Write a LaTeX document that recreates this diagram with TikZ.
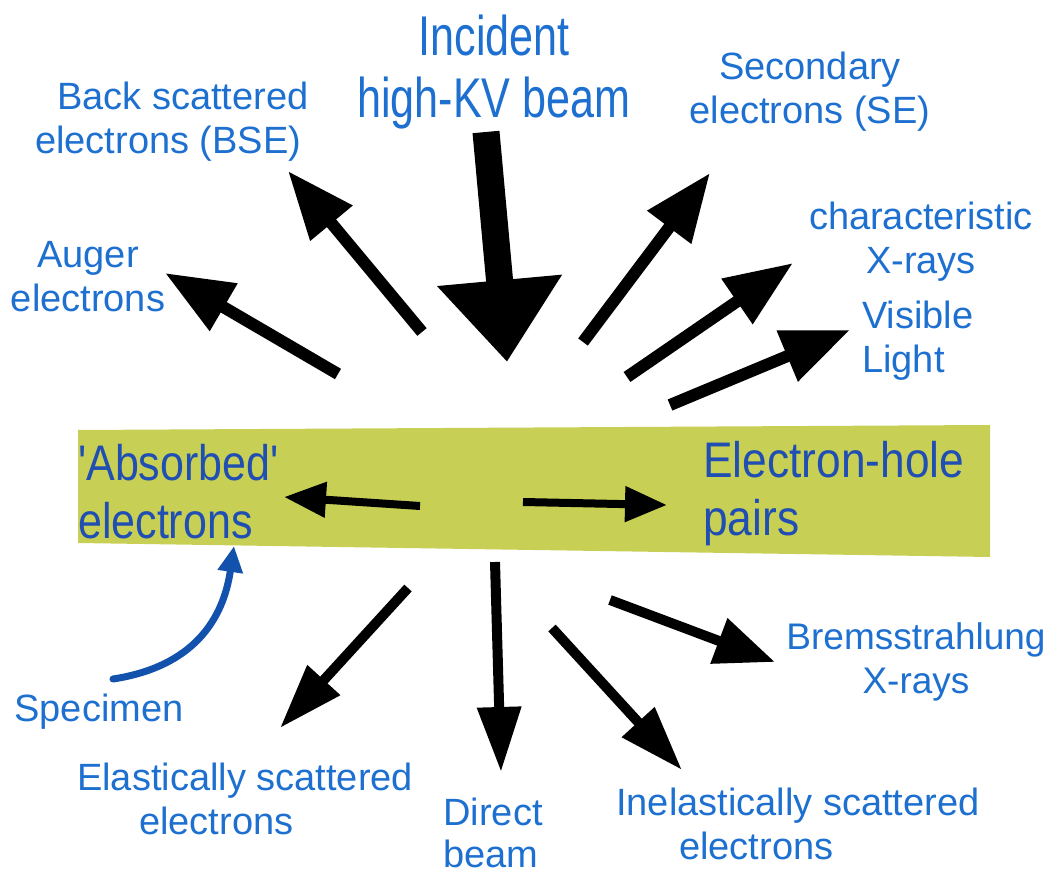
\documentclass[tikz,border=0pt]{standalone}
\usepackage{fontspec}
\setmainfont{Liberation Sans}
\usetikzlibrary{arrows.meta}

\definecolor{labelblue}{RGB}{30,112,208}
\definecolor{barblue}{RGB}{32,78,178}
\definecolor{curveblue}{RGB}{18,82,172}
\definecolor{specimen}{RGB}{199,208,84}

\begin{document}
\begin{tikzpicture}[x=1pt, y=-1pt,
    outtext/.style={text=labelblue, align=center, inner sep=0pt, font=\fontsize{38}{44}\selectfont},
    bartext/.style={text=barblue, align=left, anchor=west, inner sep=0pt, xscale=0.86, font=\fontsize{50}{58}\selectfont},
    ray/.style={line width=12pt, -{Triangle[length=68pt,width=52pt]}},
    lowray/.style={line width=10pt, -{Triangle[length=65pt,width=42pt]}},
    barray/.style={line width=8pt, -{Triangle[length=42pt,width=34pt]}}]

    \useasboundingbox (0,0) rectangle (1053,877);

    % Specimen (bar)
    \fill[specimen] (78,430) -- (990,425) -- (990,557) -- (78,543) -- cycle;

    % Labels
    \node[outtext, xscale=0.77, font=\fontsize{56}{62}\selectfont] (beam) at (494,72) {Incident\\high-KV beam};
    \node[outtext, align=left, anchor=west] (bse) at (35,122) {\hspace*{22pt}Back scattered\\electrons (BSE)};
    \node[outtext] (se) at (810,92) {Secondary\\electrons (SE)};
    \node[outtext] (auger) at (88,277) {Auger\\electrons};
    \node[outtext] (charx) at (921,242) {characteristic\\X-rays};
    \node[outtext, align=left, anchor=west] (light) at (862,341) {Visible\\Light};
    \node[outtext, font=\fontsize{37}{44}\selectfont] (brems) at (916,662) {Bremsstrahlung\\X-rays};
    \node[outtext] (spec) at (99,712) {Specimen};
    \node[outtext, align=left, anchor=west] (elastic) at (77,799) {Elastically scattered\\\hspace*{62pt}electrons};
    \node[outtext, align=left, font=\fontsize{38}{42}\selectfont] (direct) at (493,833) {Direct\\beam};
    \node[outtext, align=left, anchor=west] (inelastic) at (616,824) {Inelastically scattered\\\hspace*{63pt}electrons};

    \node[bartext] (absorbed) at (78,492) {\textquotesingle Absorbed\textquotesingle\\electrons};
    \node[bartext, xscale=1.03] (pairs) at (703,494) {Electron-hole\\pairs};

    % Ray ends
    \coordinate (beam-s) at (486,132);  \coordinate (beam-e) at (507,362);
    \coordinate (bse-s) at (422,332);   \coordinate (bse-e) at (288,171);
    \coordinate (auger-s) at (338,374); \coordinate (auger-e) at (165,273);
    \coordinate (se-s) at (583,342);    \coordinate (se-e) at (710,173);
    \coordinate (charx-s) at (627,377); \coordinate (charx-e) at (793,263);
    \coordinate (light-s) at (670,405); \coordinate (light-e) at (850,330);
    \coordinate (abs-s) at (420,506);   \coordinate (abs-e) at (284,497);
    \coordinate (pairs-s) at (523,502); \coordinate (pairs-e) at (667,505);
    \coordinate (elastic-s) at (408,588);   \coordinate (elastic-e) at (280,728);
    \coordinate (direct-s) at (495,562);    \coordinate (direct-e) at (501,772);
    \coordinate (inelastic-s) at (552,628); \coordinate (inelastic-e) at (682,770);
    \coordinate (brems-s) at (610,600);     \coordinate (brems-e) at (775,662);
    \coordinate (spec-s) at (113,679);      \coordinate (spec-e) at (234,546);

    % Rays
    \draw[line width=27pt, -{Triangle[length=82pt,width=120pt]}] (beam-s) -- (beam-e);
    \draw[ray] (bse-s) -- (bse-e);
    \draw[ray] (auger-s) -- (auger-e);
    \draw[ray] (se-s) -- (se-e);
    \draw[ray] (charx-s) -- (charx-e);
    \draw[ray] (light-s) -- (light-e);
    \draw[barray] (abs-s) -- (abs-e);
    \draw[barray] (pairs-s) -- (pairs-e);
    \draw[lowray] (elastic-s) -- (elastic-e);
    \draw[lowray] (direct-s) -- (direct-e);
    \draw[lowray] (inelastic-s) -- (inelastic-e);
    \draw[lowray, -{Triangle[length=60pt,width=46pt]}] (brems-s) -- (brems-e);

    % Specimen pointer
    \draw[curveblue, line width=7pt, line cap=round, -{Triangle[length=26pt,width=24pt]}]
        (spec-s) .. controls (185,668) and (222,628) .. (spec-e);

\end{tikzpicture}
\end{document}
